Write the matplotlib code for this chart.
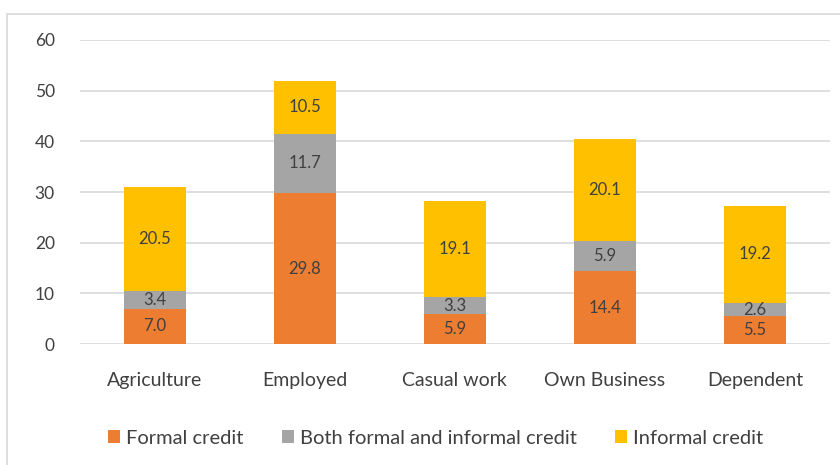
import matplotlib.pyplot as plt
import numpy as np
from matplotlib.patches import Rectangle

plt.rcParams['font.family'] = ['Lato', 'DejaVu Sans']

categories = ['Agriculture', 'Employed', 'Casual work', 'Own Business', 'Dependent']
formal = [7.0, 29.8, 5.9, 14.4, 5.5]
both = [3.4, 11.7, 3.3, 5.9, 2.6]
informal = [20.5, 10.5, 19.1, 20.1, 19.2]

series = [
    ('Formal credit', formal, '#ED7D31'),
    ('Both formal and informal credit', both, '#A5A5A5'),
    ('Informal credit', informal, '#FFC000'),
]

text_color = '#404040'
grid_color = '#D9D9D9'

fig = plt.figure(figsize=(8.4, 4.65), dpi=100)
ax = fig.add_axes([0.095, 0.26, 0.893, 0.654])

# chart frame
fig.patches.append(Rectangle((7 / 840, -0.1), 1.0, 1 - 14 / 465 + 0.1,
                             transform=fig.transFigure, fill=False,
                             edgecolor=grid_color, linewidth=1.2))

x = np.arange(len(categories))
bottom = np.zeros(len(categories))
for name, vals, color in series:
    vals = np.array(vals)
    ax.bar(x, vals, width=0.41, bottom=bottom, color=color, label=name, zorder=3)
    for xi, b, v in zip(x, bottom, vals):
        ax.text(xi, b + v / 2, f'{v:.1f}', ha='center', va='center',
                fontsize=12, color=text_color, zorder=4)
    bottom += vals

ax.set_xlim(-0.5, len(categories) - 0.5)
ax.set_ylim(0, 60)
ax.set_yticks(range(0, 61, 10))
ax.set_xticks(x)
ax.set_xticklabels(categories)
ax.yaxis.grid(True, color=grid_color, linewidth=1.2, zorder=0)
for s in ax.spines.values():
    s.set_visible(False)
ax.tick_params(length=0, colors=text_color)
ax.tick_params(axis='x', labelsize=14, pad=20)
ax.tick_params(axis='y', labelsize=12.5, pad=18)

handles, labels = ax.get_legend_handles_labels()
fig.legend(handles, labels, loc='center', bbox_to_anchor=(0.519, 0.058), ncol=3,
           frameon=False, fontsize=14.5, labelcolor=text_color,
           handlelength=0.6, handleheight=0.6, handletextpad=0.3, columnspacing=1.9)

fig.savefig('out.png', dpi=100)
